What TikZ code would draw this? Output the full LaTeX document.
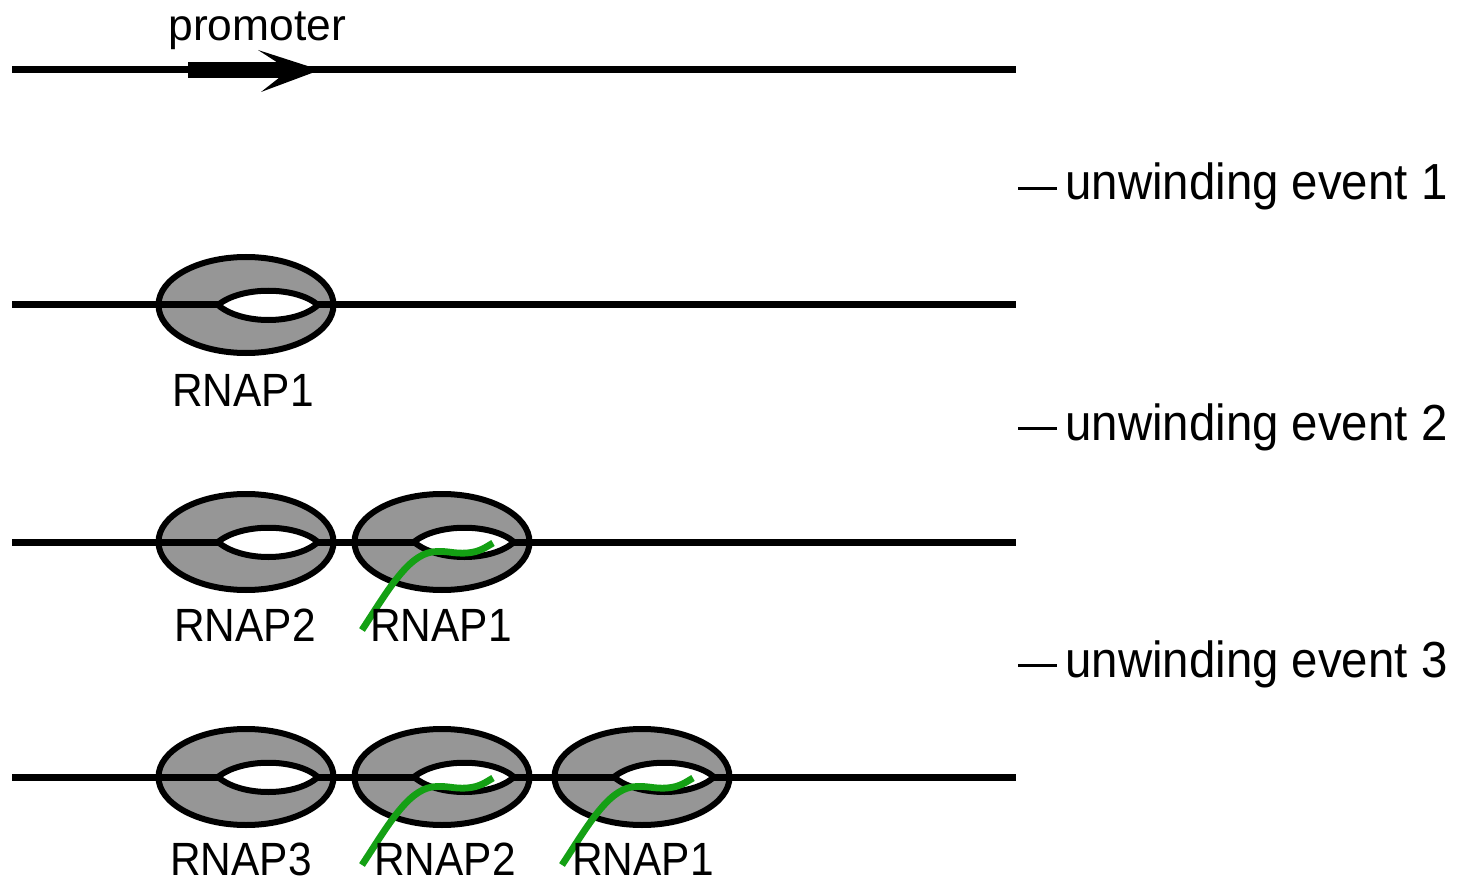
\documentclass[tikz,border=0pt]{standalone}
\usepackage{fontspec}
\usepackage{graphicx}
\setmainfont{Liberation Sans}
\usetikzlibrary{shapes.geometric,calc}
\definecolor{bodygray}{RGB}{150,150,150}
\definecolor{rnagreen}{RGB}{20,160,20}

\tikzset{
  dna/.style={line width=3.5pt},
  body/.style={ellipse, draw, fill=bodygray, line width=3pt,
    minimum width=87.5pt, minimum height=48pt, inner sep=0pt, outer sep=0pt},
  bubble/.style={fill=white, draw, line width=3pt},
  rna/.style={draw=rnagreen, line width=3.4pt},
  lbl/.style={font=\fontsize{21.2pt}{24pt}\selectfont, inner sep=0pt, anchor=base},
  evt/.style={font=\fontsize{23.7pt}{28pt}\selectfont, inner sep=0pt, anchor=base west},
}

% polymerase body with its open bubble: name, x, y
\newcommand\polymerase[3]{%
  \node[body] (#1) at (#2,#3) {};
  \begin{scope}[shift={(#1.center)}]
    \path[bubble] (-28,0) coordinate (#1-l)
      .. controls (-5,-19) and (50,-19) .. (72,0) coordinate (#1-r)
      .. controls (50,20) and (-5,20) .. cycle;
  \end{scope}}

% nascent transcript leaving a polymerase
\newcommand\transcript[1]{%
  \begin{scope}[shift={(#1.center)}]
    \path[rna] (-80,88) .. controls (-55,50) and (-35,14) .. (-10,10)
      .. controls (5,8) and (10,12) .. (25,11)
      .. controls (38,10) and (44,5) .. (51,1);
  \end{scope}}

\newcommand\vs[2]{\scalebox{1}[#1]{#2}}

\begin{document}
\begin{tikzpicture}[x=0.5pt,y=-0.5pt]
\useasboundingbox (0,0) rectangle (1462,882);

% row 1: promoter
\coordinate (d1s) at (12,70);
\coordinate (d1e) at (1016,70);
\draw[dna] (d1s) -- (d1e);
\coordinate (pb) at (188,70);
\fill (pb) ++(0,-8) rectangle (292,78);
\fill (258,50) coordinate (ht) -- (320,70) coordinate (tip) -- (261,92) -- (289,70) -- cycle;
\node[font=\fontsize{22.2pt}{26pt}\selectfont, inner sep=0pt, anchor=base west] (prom) at (168,41) {promoter};

% row 2
\polymerase{pa}{246}{305}
\coordinate (d2s) at (12,305);
\coordinate (d2e) at (1016,305);
\draw[dna] (d2s) -- (pa-l) (pa-r) -- (d2e);
\node[lbl] (la) at (243,406) {\vs{1.1}{RNAP1}};

% row 3
\polymerase{qb}{246}{542}
\polymerase{qa}{442}{542}
\coordinate (d3s) at (12,542);
\coordinate (d3e) at (1016,542);
\draw[dna] (d3s) -- (qb-l) (qb-r) -- (qa-l) (qa-r) -- (d3e);
\transcript{qa}
\node[lbl] (lqb) at (245,641) {\vs{1.1}{RNAP2}};
\node[lbl] (lqa) at (441,641) {\vs{1.1}{RNAP1}};

% row 4
\polymerase{rc}{246}{777}
\polymerase{rb}{442}{777}
\polymerase{ra}{642}{777}
\coordinate (d4s) at (12,777);
\coordinate (d4e) at (1016,777);
\draw[dna] (d4s) -- (rc-l) (rc-r) -- (rb-l) (rb-r) -- (ra-l) (ra-r) -- (d4e);
\transcript{rb}
\transcript{ra}
\node[lbl] (lrc) at (241,875) {\vs{1.1}{RNAP3}};
\node[lbl] (lrb) at (445,875) {\vs{1.1}{RNAP2}};
\node[lbl] (lra) at (643,875) {\vs{1.1}{RNAP1}};

% unwinding events
\node[evt] (e1) at (1018,200) {\vs{1.07}{\rule[4.6pt]{19.5pt}{1.7pt}\hspace{4pt}unwinding event 1}};
\node[evt] (e2) at (1018,440) {\vs{1.07}{\rule[4.6pt]{19.5pt}{1.7pt}\hspace{4pt}unwinding event 2}};
\node[evt] (e3) at (1018,677) {\vs{1.07}{\rule[4.6pt]{19.5pt}{1.7pt}\hspace{4pt}unwinding event 3}};
\end{tikzpicture}
\end{document}
